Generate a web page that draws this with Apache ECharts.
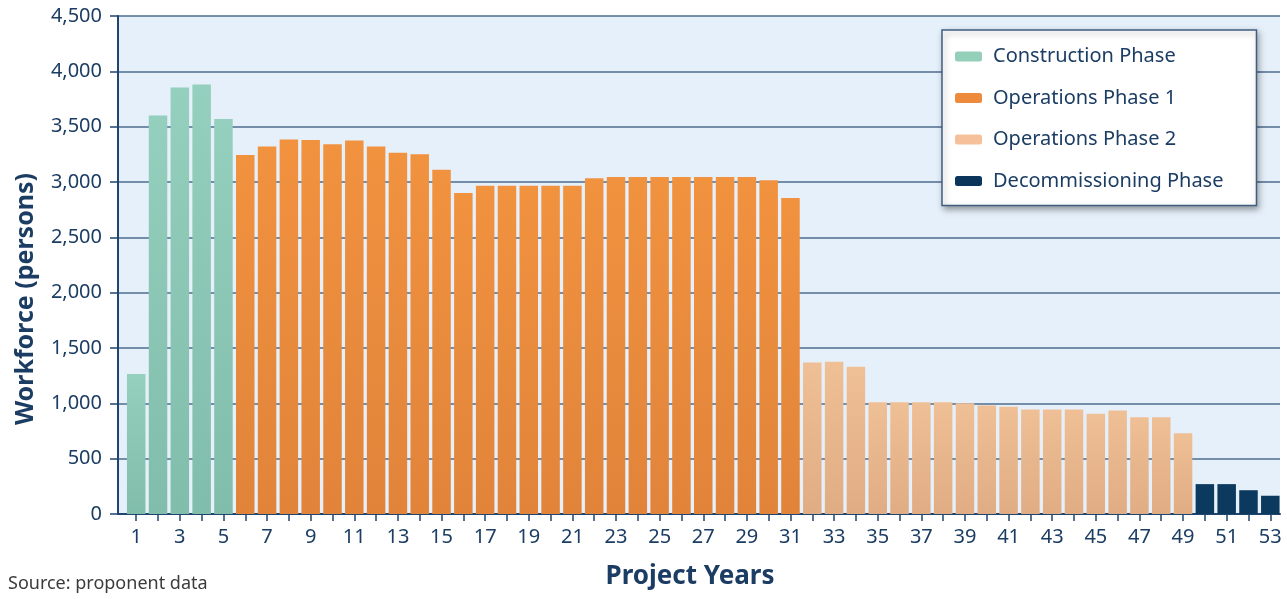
<!DOCTYPE html>
<html>
<head>
<meta charset="utf-8">
<title>Project workforce by phase</title>
<script src="https://cdn.jsdelivr.net/npm/echarts@6/dist/echarts.min.js"></script>
<style>
  html, body { margin: 0; padding: 0; background: #ffffff; }
  #chart { width: 1287px; height: 599px; }
</style>
</head>
<body>
<div id="chart"></div>
<script>
// Workforce (persons) for each project year, split by phase
const years = [1, 2, 3, 4, 5, 6, 7, 8, 9, 10, 11, 12, 13, 14, 15, 16, 17, 18, 19, 20,
  21, 22, 23, 24, 25, 26, 27, 28, 29, 30, 31, 32, 33, 34, 35, 36, 37, 38, 39, 40,
  41, 42, 43, 44, 45, 46, 47, 48, 49, 50, 51, 52, 53];
const yearLabels = [1, 3, 5, 7, 9, 11, 13, 15, 17, 19, 21, 23, 25, 27, 29, 31, 33,
  35, 37, 39, 41, 43, 45, 47, 49, 51, 53];

const constructionYears = [1, 2, 3, 4, 5];
const construction = [1265, 3600, 3855, 3880, 3570];

const operations1Years = [6, 7, 8, 9, 10, 11, 12, 13, 14, 15, 16, 17, 18, 19, 20,
  21, 22, 23, 24, 25, 26, 27, 28, 29, 30, 31];
const operations1 = [3245, 3320, 3385, 3380, 3340, 3375, 3320, 3265, 3250, 3110,
  2900, 2965, 2965, 2965, 2965, 2965, 3035, 3045, 3045, 3045, 3045, 3045, 3045,
  3045, 3015, 2855];

const operations2Years = [32, 33, 34, 35, 36, 37, 38, 39, 40, 41, 42, 43, 44, 45,
  46, 47, 48, 49];
const operations2 = [1370, 1375, 1330, 1010, 1010, 1010, 1010, 1000, 980, 970,
  945, 945, 945, 905, 935, 875, 875, 730];

const decommissioningYears = [50, 51, 52, 53];
const decommissioning = [270, 270, 215, 165];

const yTicks = [0, 500, 1000, 1500, 2000, 2500, 3000, 3500, 4000, 4500];

const NAVY = '#1c3d63';
const FONT = 'Noto Sans';

function pairs(xs, vs) {
  return xs.map((x, i) => [x, vs[i]]);
}

function fade(top, bottom) {
  return new echarts.graphic.LinearGradient(0, 0, 0, 1, [
    { offset: 0, color: top },
    { offset: 1, color: bottom }
  ]);
}

const phases = [
  { name: 'Construction Phase', xs: constructionYears, vs: construction,
    color: fade('#95cfbd', '#80bdaa'), legend: '#93cfb9' },
  { name: 'Operations Phase 1', xs: operations1Years, vs: operations1,
    color: fade('#f1923f', '#e1843a'), legend: '#ee8a3c' },
  { name: 'Operations Phase 2', xs: operations2Years, vs: operations2,
    color: fade('#efbf95', '#e0ac84'), legend: '#f5c09a' },
  { name: 'Decommissioning Phase', xs: decommissioningYears, vs: decommissioning,
    color: '#0c3a5f', legend: '#0b355a' }
];

const chart = echarts.init(document.getElementById('chart'), null, { renderer: 'canvas' });

chart.setOption({
  animation: false,
  backgroundColor: '#ffffff',
  textStyle: { fontFamily: FONT },
  title: {
    text: 'Source: proponent data',
    left: 3,
    top: 570,
    textStyle: { fontFamily: FONT, fontSize: 18, fontWeight: 'normal', color: '#3b3b3b' }
  },
  grid: {
    left: 118, right: 7, top: 16, bottom: 85,
    show: true, backgroundColor: '#e6f0fa', borderWidth: 0
  },
  legend: {
    orient: 'vertical',
    left: 942, top: 30,
    padding: [16, 33, 14, 13],
    itemWidth: 27, itemHeight: 10,
    itemGap: 20.5,
    backgroundColor: '#ffffff',
    borderColor: '#3f5e80', borderWidth: 1.5,
    shadowBlur: 6, shadowColor: 'rgba(0,0,0,0.35)', shadowOffsetX: 2, shadowOffsetY: 3,
    textStyle: { fontFamily: FONT, fontSize: 20, color: NAVY, lineHeight: 21, padding: [0, 0, 0, 6] },
    data: phases.map(p => ({ name: p.name, itemStyle: { color: p.legend } }))
  },
  xAxis: {
    type: 'value',
    min: 0.165, max: 53.445,
    name: 'Project Years',
    nameLocation: 'middle',
    nameGap: 50,
    nameTextStyle: { fontFamily: FONT, fontSize: 26, fontWeight: 'bold', color: NAVY, padding: [0, 18, 0, 0] },
    axisLine: { show: true, onZero: false, lineStyle: { color: '#1f4470', width: 2 } },
    axisTick: { show: true, length: 7, customValues: years, lineStyle: { color: '#1f4470', width: 1.5 } },
    axisLabel: { customValues: yearLabels, margin: 13, fontFamily: FONT, fontSize: 20, color: NAVY },
    splitLine: { show: false }
  },
  yAxis: {
    type: 'value',
    min: 0, max: 4500, interval: 500,
    name: 'Workforce (persons)',
    nameLocation: 'middle',
    nameGap: 80,
    nameRotate: 90,
    nameTextStyle: { fontFamily: FONT, fontSize: 25, fontWeight: 'bold', color: NAVY, padding: [0, 68, 0, 0] },
    axisLine: { show: true, lineStyle: { color: '#1f4470', width: 2 } },
    axisTick: { show: true, length: 8, lineStyle: { color: '#1f4470', width: 1.5 } },
    axisLabel: {
      margin: 16, fontFamily: FONT, fontSize: 20, color: NAVY,
      customValues: yTicks,
      formatter: v => v.toLocaleString('en-US')
    },
    splitLine: { show: true, lineStyle: { color: '#4e6c8e', width: 1.5 } }
  },
  series: phases.map(p => ({
    name: p.name,
    type: 'bar',
    stack: 'workforce',
    barWidth: 18.5,
    itemStyle: { color: p.color },
    data: pairs(p.xs, p.vs)
  }))
});
</script>
</body>
</html>
